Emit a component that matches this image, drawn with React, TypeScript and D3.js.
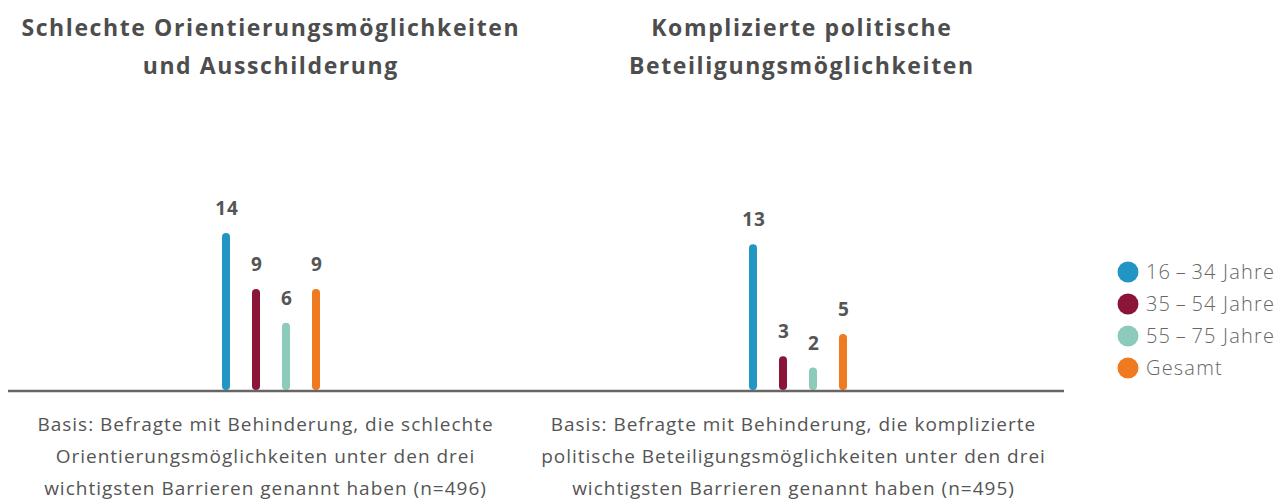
import React from "react";
import * as d3 from "d3";

const groups = ["16–34 Jahre", "35–54 Jahre", "55–75 Jahre", "Gesamt"];
const colors = ["#2196c4", "#8a1538", "#8ccbbb", "#f07a1f"];
const panelTitles = [
  ["Schlechte Orientierungsmöglichkeiten", "und Ausschilderung"],
  ["Komplizierte politische", "Beteiligungsmöglichkeiten"],
];
const panelValues = [
  [14, 9, 6, 9],
  [13, 3, 2, 5],
];
const panelNotes = [
  [
    "Basis: Befragte mit Behinderung, die schlechte",
    "Orientierungsmöglichkeiten unter den drei",
    "wichtigsten Barrieren genannt haben (n=496)",
  ],
  [
    "Basis: Befragte mit Behinderung, die komplizierte",
    "politische Beteiligungsmöglichkeiten unter den drei",
    "wichtigsten Barrieren genannt haben (n=495)",
  ],
];
const legendLabels = ["16\u2009–\u200934 Jahre", "35\u2009–\u200954 Jahre", "55\u2009–\u200975 Jahre", "Gesamt"];

const W = 1288;
const H = 500;
const FONT = "'Open Sans', 'Noto Sans', sans-serif";

export default function App() {
  const baseY = 390;
  const y = d3.scaleLinear().domain([0, 14]).range([baseY, 233]);
  const panelX = d3.scaleBand<number>().domain([0, 1]).range([8, 1064]);
  const panelW = panelX.bandwidth();
  const barX = d3.scaleBand<string>().domain(groups).range([-60, 60]).padding(0);
  const legendY = d3.scalePoint<string>().domain(legendLabels).range([272, 368]);
  const titleLS = 1.6;
  const noteLS = 1.0;

  return (
    <svg width={W} height={H} style={{ position: "absolute", left: 0, top: 0 }}>
      <rect width={W} height={H} fill="#fff" />
      {panelValues.map((vals, p) => {
        const center = (panelX(p) as number) + panelW / 2;
        const cx = center + (p === 0 ? -1 : -2);
        return (
          <g key={p}>
            {panelTitles[p].map((t, i) => (
              <text
                key={i}
                x={center + (p === 0 ? -2 : 1) + titleLS / 2}
                y={36 + i * 38}
                textAnchor="middle"
                fontFamily={FONT}
                fontWeight={700}
                fontSize={23}
                letterSpacing={titleLS}
                fill="#4d4d4d"
              >
                {t}
              </text>
            ))}
            {vals.map((v, i) => {
              const x = cx + (barX(groups[i]) as number) + barX.bandwidth() / 2;
              return (
                <g key={i}>
                  <line
                    x1={x}
                    x2={x}
                    y1={baseY - 4}
                    y2={y(v) + 4}
                    stroke={colors[i]}
                    strokeWidth={8}
                    strokeLinecap="round"
                  />
                  <text
                    x={x + 1}
                    y={y(v) - 18}
                    textAnchor="middle"
                    fontFamily={FONT}
                    fontWeight={700}
                    fontSize={19}
                    letterSpacing={1}
                    fill="#555"
                  >
                    {v}
                  </text>
                </g>
              );
            })}
            {panelNotes[p].map((t, i) => (
              <text
                key={i}
                x={center - 7 + noteLS / 2}
                y={431 + i * 32}
                textAnchor="middle"
                fontFamily={FONT}
                fontSize={19}
                letterSpacing={noteLS}
                fill="#555"
              >
                {t}
              </text>
            ))}
          </g>
        );
      })}
      <line x1={8} x2={1064} y1={baseY + 1} y2={baseY + 1} stroke="#666" strokeWidth={2.5} />
      {legendLabels.map((l, i) => (
        <g key={l}>
          <circle cx={1128} cy={legendY(l)} r={10.5} fill={colors[i]} />
          <text
            x={1146}
            y={(legendY(l) as number) + 7}
            fontFamily={FONT}
            fontWeight={300}
            fontSize={20}
            letterSpacing={1.2}
            fill="#666"
          >
            {l}
          </text>
        </g>
      ))}
    </svg>
  );
}
